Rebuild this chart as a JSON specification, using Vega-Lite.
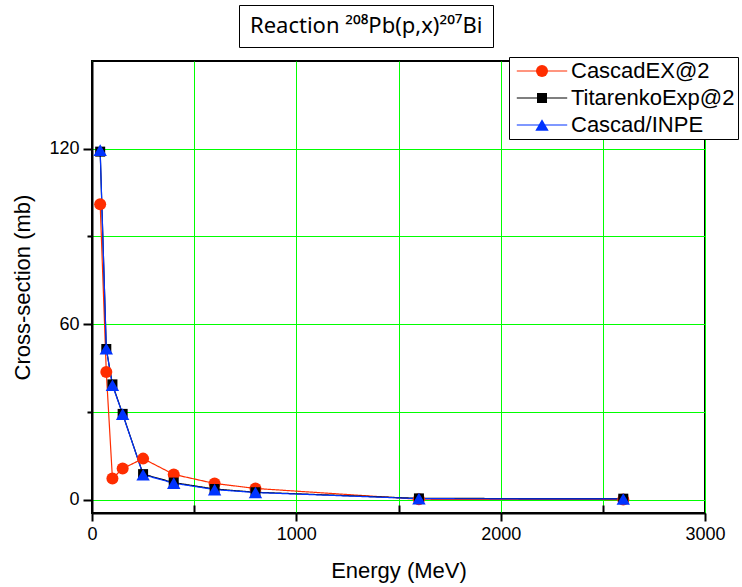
{
  "$schema": "https://vega.github.io/schema/vega-lite/v6.json",
  "width": 613,
  "height": 452,
  "autosize": "none",
  "padding": {"left": 92, "top": 61, "right": 37, "bottom": 74},
  "background": "white",
  "config": {
    "font": "Liberation Sans",
    "view": {"stroke": "black", "strokeWidth": 2}
  },
  "data": {
    "values": [
      {"series": "CascadEX@2", "energy": 40, "xs": 101},
      {"series": "CascadEX@2", "energy": 70, "xs": 43.6},
      {"series": "CascadEX@2", "energy": 100, "xs": 7.2},
      {"series": "CascadEX@2", "energy": 150, "xs": 10.6},
      {"series": "CascadEX@2", "energy": 250, "xs": 14.0},
      {"series": "CascadEX@2", "energy": 400, "xs": 8.6},
      {"series": "CascadEX@2", "energy": 600, "xs": 5.5},
      {"series": "CascadEX@2", "energy": 800, "xs": 3.8},
      {"series": "CascadEX@2", "energy": 1600, "xs": 0.1},
      {"series": "CascadEX@2", "energy": 2600, "xs": 0.0},
      {"series": "TitarenkoExp@2", "energy": 40, "xs": 119},
      {"series": "TitarenkoExp@2", "energy": 70, "xs": 51.5},
      {"series": "TitarenkoExp@2", "energy": 100, "xs": 39.4},
      {"series": "TitarenkoExp@2", "energy": 150, "xs": 29.3},
      {"series": "TitarenkoExp@2", "energy": 250, "xs": 8.7},
      {"series": "TitarenkoExp@2", "energy": 400, "xs": 5.8},
      {"series": "TitarenkoExp@2", "energy": 600, "xs": 3.6},
      {"series": "TitarenkoExp@2", "energy": 800, "xs": 2.5},
      {"series": "TitarenkoExp@2", "energy": 1600, "xs": 0.4},
      {"series": "TitarenkoExp@2", "energy": 2600, "xs": 0.3},
      {"series": "Cascad/INPE", "energy": 40, "xs": 119.5},
      {"series": "Cascad/INPE", "energy": 70, "xs": 51.6},
      {"series": "Cascad/INPE", "energy": 100, "xs": 39.1},
      {"series": "Cascad/INPE", "energy": 150, "xs": 29.2},
      {"series": "Cascad/INPE", "energy": 250, "xs": 8.5},
      {"series": "Cascad/INPE", "energy": 400, "xs": 5.6},
      {"series": "Cascad/INPE", "energy": 600, "xs": 3.4},
      {"series": "Cascad/INPE", "energy": 800, "xs": 2.4},
      {"series": "Cascad/INPE", "energy": 1600, "xs": 0.3},
      {"series": "Cascad/INPE", "energy": 2600, "xs": 0.2}
    ]
  },
  "encoding": {
    "x": {
      "field": "energy",
      "type": "quantitative",
      "scale": {"domain": [0, 3000], "nice": false, "zero": false},
      "axis": {
        "values": [0, 500, 1000, 1500, 2000, 2500, 3000],
        "format": "d",
        "labelExpr": "datum.value % 1000 === 0 ? datum.label : ''",
        "grid": true,
        "gridColor": "#00ff00",
        "gridWidth": 1,
        "gridOpacity": 1,
        "domainColor": "black",
        "domainWidth": 2,
        "tickColor": "black",
        "tickWidth": 2,
        "tickSize": {"condition": {"test": "datum.value % 1000 === 0", "value": 8}, "value": -8},
        "labelFontSize": 18,
        "labelColor": "black",
        "labelPadding": 4,
        "labelFlush": false,
        "title": "Energy (MeV)",
        "titleFontSize": 22,
        "titleFontWeight": "normal",
        "titleColor": "black",
        "titlePadding": 17
      }
    },
    "y": {
      "field": "xs",
      "type": "quantitative",
      "scale": {"domain": [-4.6, 150], "nice": false, "zero": false},
      "axis": {
        "values": [0, 30, 60, 90, 120],
        "labelExpr": "datum.value % 60 === 0 ? datum.label : ''",
        "grid": true,
        "gridColor": "#00ff00",
        "gridWidth": 1,
        "gridOpacity": 1,
        "domainColor": "black",
        "domainWidth": 2,
        "tickColor": "black",
        "tickWidth": 2,
        "tickSize": {"condition": {"test": "datum.value % 60 === 0", "value": 9}, "value": 5},
        "labelFontSize": 18,
        "labelColor": "black",
        "labelPadding": 4,
        "labelFlush": false,
        "title": "Cross-section (mb)",
        "titleFontSize": 22,
        "titleFontWeight": "normal",
        "titleColor": "black",
        "titlePadding": 14
      }
    }
  },
  "layer": [
    {
      "mark": {"type": "line", "clip": false, "strokeWidth": 1.2},
      "encoding": {
        "detail": {"field": "series", "type": "nominal"},
        "stroke": {
          "field": "series",
          "type": "nominal",
          "scale": {"range": ["#0033ff", "#ff2d00", "#000000"]},
          "legend": {
            "values": ["CascadEX@2", "TitarenkoExp@2", "Cascad/INPE"],
            "orient": "none",
            "legendX": 417,
            "legendY": -4,
            "title": null,
            "labelFontSize": 22,
            "labelFont": "Liberation Sans",
            "labelColor": "transparent",
            "labelLimit": 300,
            "symbolType": "M-4.2,0H4.2",
            "symbolSize": 144,
            "symbolOffset": 19,
            "symbolStrokeWidth": 1.2,
            "labelOffset": 18,
            "padding": 3,
            "rowPadding": 5,
            "strokeColor": "black",
            "fillColor": "white"
          }
        },
        "strokeDash": {
          "datum": "Reaction ²⁰⁸Pb(p,x)²⁰⁷Bi",
          "type": "nominal",
          "scale": {"range": [[1, 0]]},
          "legend": {
            "orient": "none",
            "legendX": 147,
            "legendY": -56,
            "title": null,
            "symbolSize": 0,
            "symbolOpacity": 0,
            "symbolStrokeWidth": 0,
            "labelOffset": -21,
            "labelFontSize": 22,
            "labelFont": "Noto Sans",
            "labelColor": "black",
            "labelLimit": 0,
            "padding": 10,
            "strokeColor": "black",
            "fillColor": "white"
          }
        }
      }
    },
    {
      "mark": {"type": "point", "filled": true, "opacity": 1, "strokeWidth": 0, "clip": false},
      "encoding": {
        "color": {
          "field": "series",
          "type": "nominal",
          "scale": {
            "domain": ["CascadEX@2", "TitarenkoExp@2", "Cascad/INPE"],
            "range": ["#ff2d00", "#000000", "#0033ff"]
          },
          "legend": {
            "orient": "none",
            "legendX": 417,
            "legendY": -4,
            "title": null,
            "labelFontSize": 22,
            "labelFont": "Liberation Sans",
            "labelColor": "black",
            "labelLimit": 300,
            "symbolSize": 144,
            "symbolOffset": 19,
            "symbolStrokeWidth": 0,
            "labelOffset": 18,
            "padding": 3,
            "rowPadding": 5
          }
        },
        "shape": {
          "field": "series",
          "type": "nominal",
          "scale": {"domain": ["CascadEX@2", "TitarenkoExp@2", "Cascad/INPE"], "range": ["circle", "square", "triangle-up"]}
        },
        "size": {
          "field": "series",
          "type": "nominal",
          "scale": {"type": "ordinal", "domain": ["CascadEX@2", "TitarenkoExp@2", "Cascad/INPE"], "range": [144, 100, 180]}
        }
      }
    }
  ]
}
